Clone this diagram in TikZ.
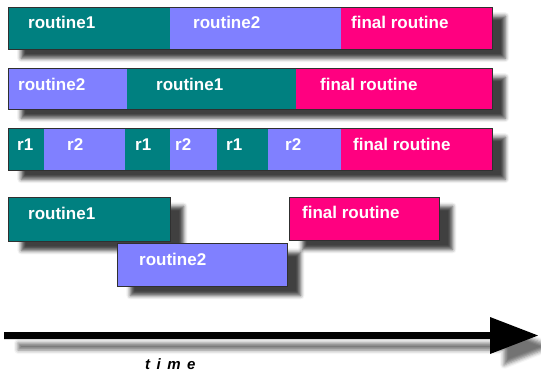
\documentclass[tikz,border=0pt]{standalone}
\usepackage{fontspec}
\setmainfont{Liberation Sans}
\usetikzlibrary{shadows.blur}
\definecolor{rteal}{HTML}{008080}
\definecolor{rblue}{HTML}{8080FF}
\definecolor{rpink}{HTML}{FF0080}
\definecolor{rborder}{HTML}{303030}
\tikzset{
  shd/.style={blur shadow={shadow xshift=13pt, shadow yshift=-9pt, shadow blur radius=4pt, shadow opacity=75}},
  bar/.style={shd, fill=white, draw=none, inner sep=0pt, anchor=north west},
  seg/.style={draw=none, inner sep=0pt, anchor=north west},
  border/.style={draw=rborder, line width=0.9pt},
  lbl/.style={text=white, font=\bfseries\fontsize{17}{17}\selectfont, anchor=base west, inner sep=0pt},
}
\begin{document}
\begin{tikzpicture}[x=1pt,y=-1pt]
\useasboundingbox (0,0) rectangle (541,375);
% ---------- row 1
\node[bar, minimum width=484pt, minimum height=42pt] (b1) at (8,7) {};
\node[seg, fill=rteal, minimum width=162pt, minimum height=42pt] (s11) at (8,7) {};
\node[seg, fill=rblue, minimum width=171pt, minimum height=42pt] (s12) at (170,7) {};
\node[seg, fill=rpink, minimum width=151pt, minimum height=42pt] (s13) at (341,7) {};
\draw[border] (b1.north west) rectangle (b1.south east);
\node[lbl] (t11) at (28,28.5) {routine1};
\node[lbl] (t12) at (193,28.5) {routine2};
\node[lbl] (t13) at (351,28.5) {final routine};
% ---------- row 2
\node[bar, minimum width=484pt, minimum height=41pt] (b2) at (8,68) {};
\node[seg, fill=rblue, minimum width=119pt, minimum height=41pt] (s21) at (8,68) {};
\node[seg, fill=rteal, minimum width=169pt, minimum height=41pt] (s22) at (127,68) {};
\node[seg, fill=rpink, minimum width=196pt, minimum height=41pt] (s23) at (296,68) {};
\draw[border] (b2.north west) rectangle (b2.south east);
\node[lbl] (t21) at (18,90.5) {routine2};
\node[lbl] (t22) at (156,90.5) {routine1};
\node[lbl] (t23) at (320,90.5) {final routine};
% ---------- row 3
\node[bar, minimum width=484pt, minimum height=42pt] (b3) at (8,128) {};
\node[seg, fill=rteal, minimum width=36pt, minimum height=42pt] (s31) at (8,128) {};
\node[seg, fill=rblue, minimum width=81pt, minimum height=42pt] (s32) at (44,128) {};
\node[seg, fill=rteal, minimum width=45pt, minimum height=42pt] (s33) at (125,128) {};
\node[seg, fill=rblue, minimum width=47pt, minimum height=42pt] (s34) at (170,128) {};
\node[seg, fill=rteal, minimum width=51pt, minimum height=42pt] (s35) at (217,128) {};
\node[seg, fill=rblue, minimum width=73pt, minimum height=42pt] (s36) at (268,128) {};
\node[seg, fill=rpink, minimum width=151pt, minimum height=42pt] (s37) at (341,128) {};
\draw[border] (b3.north west) rectangle (b3.south east);
\node[lbl] (t31) at (17,150) {r1};
\node[lbl] (t32) at (67,150) {r2};
\node[lbl] (t33) at (135,150) {r1};
\node[lbl] (t34) at (175,150) {r2};
\node[lbl] (t35) at (226,150) {r1};
\node[lbl] (t36) at (285,150) {r2};
\node[lbl] (t37) at (353,150) {final routine};
% ---------- row 4
\node[bar, fill=rteal, border, minimum width=162pt, minimum height=44pt] (b41) at (8,197) {};
\node[lbl] (t41) at (28,219) {routine1};
\node[bar, fill=rblue, border, minimum width=170pt, minimum height=43pt] (b42) at (117,243) {};
\node[lbl] (t42) at (139,265) {routine2};
\node[bar, fill=rpink, border, minimum width=150pt, minimum height=43pt] (b43) at (289,197) {};
\node[lbl] (t43) at (302,218) {final routine};
% ---------- time arrow
\coordinate (a0) at (4,335.5);
\coordinate (a1) at (538,335.5);
\fill[black, blur shadow={shadow xshift=14pt, shadow yshift=-11pt, shadow blur radius=4pt, shadow opacity=55}]
  (4,332) -- (490,332) -- (490,317) -- (a1) -- (490,354) -- (490,339) -- (4,339) -- cycle;
\node[anchor=base west, inner sep=0pt, font=\bfseries\itshape\fontsize{15}{15}\selectfont] (tm) at (145,369) {t\hspace{6.5pt}i\hspace{6.5pt}m\hspace{6.5pt}e};
\end{tikzpicture}
\end{document}
